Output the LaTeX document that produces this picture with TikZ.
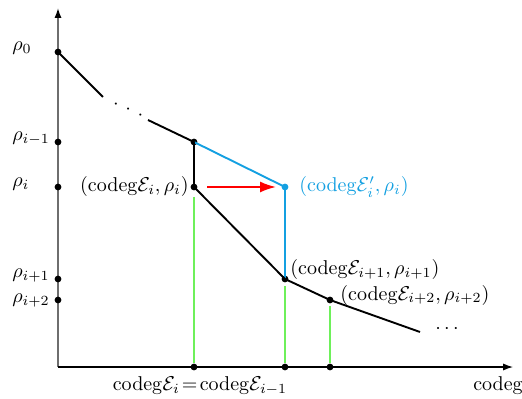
\documentclass[tikz,border=0pt]{standalone}
\usetikzlibrary{arrows.meta}
\definecolor{myblue}{RGB}{20,160,225}
\definecolor{mygreen}{RGB}{110,240,90}
\definecolor{mygray}{RGB}{110,110,110}
\begin{document}
\begin{tikzpicture}[x=0.5pt,y=-0.5pt,
  dot/.style={circle,fill=black,inner sep=0pt,minimum size=3.4pt},
  bdot/.style={circle,fill=myblue,inner sep=0pt,minimum size=3.4pt},
  thk/.style={line width=0.95pt},
  grn/.style={mygreen,line width=0.6pt},
  lbl/.style={inner sep=0pt}]
\useasboundingbox (0,0) rectangle (522,399);
% axes
\coordinate (O) at (58,367);
\coordinate (ytip) at (58,8);
\coordinate (xstart) at (58,367);
\coordinate (xtip) at (513,367);
\draw[mygray,line width=0.75pt,-{Latex[length=5pt,width=3.6pt,black]}] (O) -- (ytip);
\draw[black,line width=0.6pt,-{Latex[length=5pt,width=3.6pt]}] (xstart) -- (xtip);
% y-axis dots
\node[dot] (y0) at (58,52) {};
\node[dot] (y1) at (58,142) {};
\node[dot] (y2) at (58,187) {};
\node[dot] (y3) at (58,279) {};
\node[dot] (y4) at (58,300) {};
\node[lbl,anchor=west] at (12,48) {$\rho_0$};
\node[lbl,anchor=west] at (12,139) {$\rho_{i-1}$};
\node[lbl,anchor=west] at (12,184) {$\rho_i$};
\node[lbl,anchor=west] at (12,276) {$\rho_{i+1}$};
\node[lbl,anchor=west] at (12,301) {$\rho_{i+2}$};
% x-axis dots
\node[dot] (x1) at (194,367) {};
\node[dot] (x2) at (285,367) {};
\node[dot] (x3) at (330,367) {};
\node[lbl] at (200,386) {$\mathrm{codeg}\mathcal{E}_i\!=\!\mathrm{codeg}\mathcal{E}_{i-1}$};
\node[lbl] at (498,386) {codeg};
% points
\node[dot] (pim1) at (194,142) {};
\node[dot] (pi) at (194,187) {};
\node[dot] (pi1) at (285,279) {};
\node[dot] (pi2) at (330,300) {};
\coordinate (a) at (103,97);
\coordinate (b) at (148,120);
\coordinate (e) at (420,332);
% green lines
\coordinate (g1) at (194,197);
\coordinate (g2) at (285,286);
\coordinate (g3) at (330,306);
\draw[grn] (g1) -- (x1);
\draw[grn] (g2) -- (x2);
\draw[grn] (g3) -- (x3);
% blue path
\node[bdot] (bp) at (285,187) {};
\draw[myblue,thk] (pim1.center) -- (bp.center) -- (pi1.center);
% black path
\draw[thk] (y0.center) -- (a);
\draw[thk] (b) -- (pim1.center) -- (pi.center) -- (pi1.center) -- (pi2.center) -- (e);
\node[lbl,rotate=-24] at (128,110) {$\cdot\mkern3mu\cdot\mkern3mu\cdot$};
\node[lbl] at (447,329) {$\cdots$};
% red arrow
\coordinate (r1) at (207,187);
\coordinate (r2) at (276,187);
\draw[red,line width=0.9pt,-{Latex[length=8pt,width=5.5pt]}] (r1) -- (r2);
% labels
\node[lbl,anchor=east] at (189,187) {$(\mathrm{codeg}\mathcal{E}_i,\rho_i)$};
\node[lbl,anchor=west,text=myblue] at (299,187) {$(\mathrm{codeg}\mathcal{E}'_i,\rho_i)$};
\node[lbl,anchor=west] at (290,270) {$(\mathrm{codeg}\mathcal{E}_{i+1},\rho_{i+1})$};
\node[lbl,anchor=west] at (340,295) {$(\mathrm{codeg}\mathcal{E}_{i+2},\rho_{i+2})$};
\end{tikzpicture}
\end{document}
